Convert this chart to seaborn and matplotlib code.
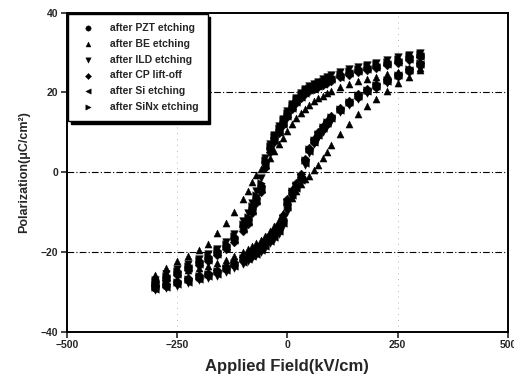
import pandas as pd
import matplotlib
matplotlib.use("Agg")
import matplotlib.pyplot as plt
import seaborn as sns

# applied field grid (kV/cm), shared by every branch
field = [-300, -275, -250, -225, -200, -180, -160, -140, -120, -100,
         -90, -80, -70, -60, -50, -40, -30, -20, -10, 0,
         10, 20, 30, 40, 50, 60, 70, 80, 90, 100,
         120, 140, 160, 180, 200, 225, 250, 275, 300]

# polarization (uC/cm2): "up" = branch coming down from +Emax, "dn" = branch going up from -Emax
pzt_up = [-27.5, -26.2, -25.0, -23.8, -22.5, -21.5, -20.0, -18.5, -16.5, -13.5,
          -11.8, -9.0, -6.5, -3.5, 2.5, 6.0, 8.5, 10.5, 12.5, 14.5,
          16.5, 18.0, 19.2, 20.2, 20.8, 21.2, 21.8, 22.5, 23.0, 23.5,
          24.3, 25.0, 25.6, 26.2, 26.7, 27.3, 28.0, 28.8, 29.3]
pzt_dn = [-29.0, -28.4, -27.8, -27.1, -26.4, -25.8, -25.1, -24.2, -23.2, -22.0,
          -21.3, -20.6, -20.0, -19.1, -18.0, -16.8, -15.6, -14.3, -12.0, -8.0,
          -5.2, -3.6, -1.5, 3.0, 5.6, 7.6, 9.3, 10.9, 12.2, 13.5,
          15.5, 17.3, 18.9, 20.3, 21.5, 22.8, 24.1, 25.5, 27.0]

be_up = [-25.8, -24.0, -22.3, -21.0, -19.5, -18.0, -15.3, -12.8, -10.0, -6.8,
         -4.6, -2.5, -0.8, 0.7, 2.2, 3.7, 5.3, 7.0, 8.7, 10.4,
         12.0, 13.5, 14.8, 15.9, 16.9, 17.8, 18.5, 19.2, 19.8, 20.4,
         21.3, 22.1, 22.8, 23.4, 24.0, 24.6, 25.2, 25.8, 26.2]
be_dn = [-26.0, -25.5, -25.0, -24.5, -24.0, -23.4, -22.8, -22.0, -21.0, -20.0,
         -19.3, -18.6, -17.8, -17.0, -16.0, -14.8, -13.5, -12.0, -10.3, -8.5,
         -6.5, -4.6, -3.0, -1.8, -1.0, 0.5, 1.8, 3.5, 5.2, 6.8,
         9.6, 12.2, 14.6, 16.6, 18.4, 20.5, 22.3, 24.0, 25.7]

ild_up = [-27.0, -25.6, -24.3, -23.0, -21.8, -20.6, -19.2, -17.5, -15.4, -12.3,
          -10.2, -7.6, -4.8, -1.5, 3.6, 7.0, 9.4, 11.5, 13.4, 15.3,
          17.2, 18.7, 19.9, 20.9, 21.6, 22.1, 22.7, 23.3, 23.8, 24.3,
          25.1, 25.8, 26.4, 27.0, 27.5, 28.1, 28.8, 29.5, 30.0]
ild_dn = [-29.6, -29.0, -28.5, -27.8, -27.1, -26.6, -25.9, -25.0, -24.0, -22.9,
          -22.2, -21.5, -20.8, -20.0, -19.0, -17.8, -16.6, -15.4, -13.4, -10.0,
          -6.4, -4.2, -2.2, 1.8, 4.8, 7.0, 8.6, 10.2, 11.6, 12.9,
          15.0, 16.8, 18.4, 19.8, 21.0, 22.4, 23.8, 25.2, 26.6]

cp_up = [-28.2, -26.9, -25.7, -24.5, -23.2, -22.2, -20.8, -19.3, -17.4, -14.6,
         -12.9, -10.3, -7.8, -4.9, 1.0, 5.0, 7.7, 9.8, 11.8, 13.8,
         15.8, 17.4, 18.6, 19.6, 20.3, 20.8, 21.4, 22.0, 22.5, 23.0,
         23.8, 24.5, 25.1, 25.7, 26.2, 26.8, 27.5, 28.2, 28.8]
cp_dn = [-28.6, -27.9, -27.2, -26.5, -25.8, -25.2, -24.4, -23.5, -22.5, -21.3,
         -20.6, -19.9, -19.2, -18.3, -17.1, -15.9, -14.6, -13.2, -10.8, -6.6,
         -4.4, -2.8, -0.4, 3.4, 6.2, 8.4, 10.0, 11.5, 12.8, 14.0,
         16.1, 17.9, 19.5, 20.9, 22.1, 23.4, 24.7, 26.0, 27.4]

si_up = [-27.8, -26.6, -25.4, -24.1, -22.9, -21.9, -20.5, -18.9, -16.9, -14.1,
         -12.4, -9.8, -7.1, -4.2, 1.8, 5.5, 8.1, 10.2, 12.2, 14.1,
         16.1, 17.7, 18.9, 19.9, 20.6, 21.0, 21.6, 22.2, 22.8, 23.3,
         24.0, 24.8, 25.4, 26.0, 26.5, 27.1, 27.7, 28.5, 29.1]
si_dn = [-29.3, -28.7, -28.1, -27.4, -26.7, -26.1, -25.4, -24.6, -23.6, -22.4,
         -21.7, -21.0, -20.4, -19.5, -18.5, -17.3, -16.1, -14.8, -12.6, -8.8,
         -5.8, -3.9, -1.9, 2.4, 5.3, 7.6, 9.4, 11.0, 12.3, 13.6,
         15.7, 17.5, 19.1, 20.5, 21.7, 23.0, 24.3, 25.7, 27.2]

sinx_up = [-27.2, -25.9, -24.7, -23.4, -22.1, -21.1, -19.6, -18.0, -16.0, -13.0,
           -11.1, -8.4, -5.7, -2.6, 3.0, 6.5, 9.0, 11.0, 13.0, 14.9,
           16.8, 18.4, 19.6, 20.6, 21.2, 21.7, 22.3, 22.9, 23.4, 23.9,
           24.7, 25.4, 26.0, 26.6, 27.1, 27.7, 28.4, 29.2, 29.7]
sinx_dn = [-28.8, -28.1, -27.5, -26.8, -26.1, -25.5, -24.7, -23.9, -22.8, -21.6,
           -20.9, -20.2, -19.6, -18.7, -17.5, -16.3, -15.1, -13.8, -11.4, -7.4,
           -4.8, -3.2, -1.0, 3.0, 5.8, 8.0, 9.7, 11.3, 12.6, 13.8,
           15.8, 17.7, 19.3, 20.7, 21.9, 23.2, 24.5, 25.9, 27.3]

labels = ["after PZT etching", "after BE etching", "after ILD etching",
          "after CP lift-off", "after Si etching", "after SiNx etching"]
branches = [(pzt_up, pzt_dn), (be_up, be_dn), (ild_up, ild_dn),
            (cp_up, cp_dn), (si_up, si_dn), (sinx_up, sinx_dn)]
markers = ["o", "^", "v", "D", "<", ">"]
sizes = [30, 26, 30, 20, 30, 30]

rows = []
for lab, (up, dn) in zip(labels, branches):
    for e, p in zip(field, up):
        rows.append((lab, e, p))
    for e, p in zip(field, dn):
        rows.append((lab, e, p))
df = pd.DataFrame(rows, columns=["sample", "field", "pol"])

sns.set_style("ticks")
plt.rcParams["font.family"] = ["Liberation Sans", "DejaVu Sans"]
plt.rcParams["font.weight"] = "bold"

fig = plt.figure(figsize=(5.14, 3.85), dpi=100)
ax = fig.add_axes([0.130, 0.138, 0.858, 0.829])

for lab, m, s in zip(labels, markers, sizes):
    sns.scatterplot(data=df[df["sample"] == lab], x="field", y="pol", ax=ax,
                    marker=m, s=s, color="black", edgecolor="black",
                    linewidth=0.3, label=lab)

ax.set_xlim(-500, 500)
ax.set_ylim(-40, 40)
ax.set_xticks([-500, -250, 0, 250, 500])
ax.set_yticks([-40, -20, 0, 20, 40])
for y in [-20, 0, 20]:
    ax.axhline(y, color="black", lw=0.8, ls=(0, (6, 2, 1, 2)), zorder=0)
for x in [-250, 250]:
    ax.axvline(x, color="0.6", lw=0.6, ls=(0, (1, 6)), zorder=0)

for sp in ax.spines.values():
    sp.set_linewidth(1.4)
    sp.set_color("black")
ax.tick_params(direction="out", length=4, width=1.2, labelsize=7.5, pad=2)
for t in ax.get_xticklabels() + ax.get_yticklabels():
    t.set_fontweight("bold")

ax.set_xlabel("Applied Field(kV/cm)", fontsize=12, fontweight="bold", labelpad=6)
ax.set_ylabel("Polarization(\u03bcC/cm\u00b2)", fontsize=9, fontweight="bold", labelpad=8)

leg = ax.legend(loc="upper left", borderaxespad=0.1, fontsize=7.5, frameon=True,
                fancybox=False, shadow={"color": "black", "alpha": 1},
                handletextpad=1.1, labelspacing=0.55, borderpad=0.9,
                markerscale=0.7)
leg.get_frame().set_edgecolor("black")
leg.get_frame().set_linewidth(1.0)
for t in leg.get_texts():
    t.set_fontweight("bold")

fig.savefig("out.png", dpi=100)
